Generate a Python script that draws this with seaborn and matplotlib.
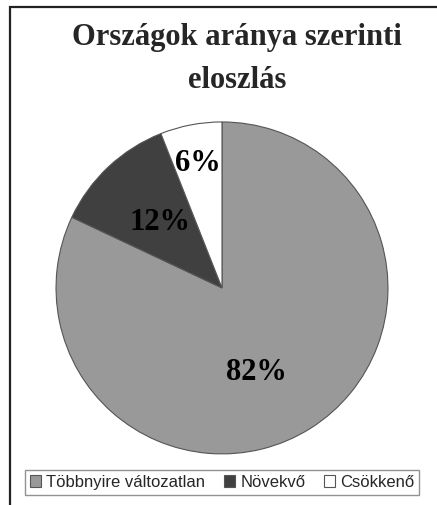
import matplotlib
matplotlib.use("Agg")
import matplotlib.pyplot as plt
import matplotlib.patches as mpatches
import seaborn as sns

# Data
categories = ["Többnyire változatlan", "Növekvő", "Csökkenő"]
shares = [82, 12, 6]
colors = ["#999999", "#404040", "#ffffff"]
title = "Országok aránya szerinti\neloszlás"

sns.set_style("white")
plt.rcParams["font.family"] = ["Liberation Sans", "DejaVu Sans"]

fig = plt.figure(figsize=(4.37, 5.06), dpi=100)
ax = fig.add_axes([0.128, 0.101, 0.76, 0.656])

wedges, texts, autotexts = ax.pie(
    shares, colors=colors, startangle=90, counterclock=False,
    autopct="%d%%", pctdistance=0.55,
    wedgeprops=dict(edgecolor="#555555", linewidth=0.8),
    textprops=dict(family="Liberation Serif", fontweight="bold", fontsize=22, color="black"),
)
# push the small slice label outward
x, y = autotexts[2].get_position()
autotexts[2].set_position((x * 1.4, y * 1.4))
x, y = autotexts[0].get_position()
autotexts[0].set_position((x - 0.09, y - 0.04))
ax.set_xlim(-1, 1)
ax.set_ylim(-1, 1)
ax.set_aspect("equal")

fig.text(0.542, 1 - 59 / 506, title, ha="center", va="center",
         family="Liberation Serif", fontweight="bold", fontsize=22, linespacing=1.65)

leg = fig.legend(wedges, categories, loc="center", bbox_to_anchor=(0.508, 1 - 483 / 506),
                 ncol=3, frameon=True, fancybox=False, fontsize=12,
                 handlelength=0.7, handleheight=0.7, handletextpad=0.3, columnspacing=1.1,
                 borderpad=0.3)
leg.get_frame().set_edgecolor("#777777")
leg.get_frame().set_linewidth(1.0)

# chart border (left and top)
fig.add_artist(mpatches.Rectangle((10 / 437, -0.1), 1.2, 1.1 - 8 / 506, transform=fig.transFigure,
                                  fill=False, edgecolor="#222222", linewidth=1.6))

fig.savefig("out.png", dpi=100)
